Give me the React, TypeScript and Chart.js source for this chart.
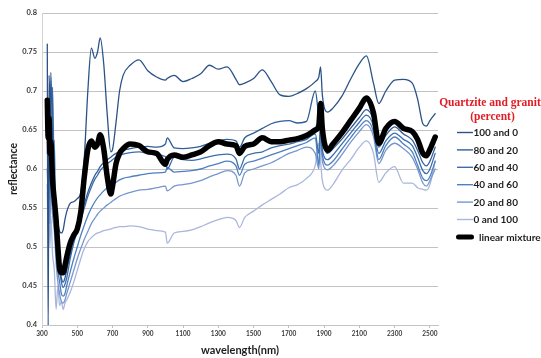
import React, { useEffect, useRef } from "react";
import { Chart, registerables } from "chart.js";

Chart.register(...registerables);

const wavelengths = [
  330, 335, 340, 345, 350, 360, 370, 380, 390, 400, 410, 420, 430, 440, 460, 480, 500, 520, 540, 560,
  580, 600, 615, 630, 650, 670, 690, 700, 720, 740, 760, 800, 850, 900, 950, 1000, 1010, 1050, 1100, 1150,
  1200, 1250, 1300, 1350, 1400, 1420, 1450, 1500, 1550, 1600, 1650, 1700, 1750, 1800, 1850, 1870, 1880, 1890, 1920, 1950,
  2000, 2050, 2100, 2140, 2180, 2210, 2250, 2300, 2350, 2400, 2430, 2460, 2480, 2500, 2530,
];

const q100g0 = [
  0.76, 0.39, 0.72, 0.68, 0.66, 0.61, 0.57, 0.545, 0.53, 0.52, 0.518, 0.522, 0.535, 0.545, 0.556, 0.558, 0.562, 0.57, 0.615, 0.70,
  0.755, 0.742, 0.75, 0.768, 0.735, 0.67, 0.622, 0.625, 0.66, 0.70, 0.72, 0.733, 0.74, 0.726, 0.718, 0.714, 0.716, 0.72, 0.712, 0.716,
  0.722, 0.733, 0.728, 0.731, 0.715, 0.708, 0.71, 0.716, 0.727, 0.712, 0.695, 0.693, 0.697, 0.703, 0.712, 0.718, 0.731, 0.695, 0.673, 0.678,
  0.693, 0.715, 0.735, 0.745, 0.71, 0.684, 0.70, 0.714, 0.715, 0.71, 0.69, 0.658, 0.655, 0.662, 0.671,
];

const q80g20 = [
  0.64, 0.60, 0.68, 0.62, 0.724, 0.64, 0.58, 0.53, 0.50, 0.475, 0.46, 0.455, 0.46, 0.47, 0.49, 0.51, 0.525, 0.54, 0.555, 0.57,
  0.582, 0.592, 0.597, 0.603, 0.608, 0.612, 0.615, 0.617, 0.62, 0.622, 0.624, 0.626, 0.628, 0.629, 0.628, 0.632, 0.64, 0.627, 0.626, 0.627,
  0.629, 0.633, 0.636, 0.638, 0.636, 0.628, 0.64, 0.646, 0.652, 0.658, 0.661, 0.662, 0.659, 0.661, 0.70, 0.668, 0.662, 0.64, 0.62, 0.626,
  0.638, 0.652, 0.666, 0.676, 0.662, 0.628, 0.643, 0.654, 0.645, 0.637, 0.624, 0.608, 0.604, 0.61, 0.628,
];

const q60g40 = [
  0.62, 0.66, 0.58, 0.64, 0.60, 0.705, 0.56, 0.52, 0.49, 0.47, 0.455, 0.448, 0.452, 0.46, 0.485, 0.505, 0.52, 0.535, 0.55, 0.565,
  0.577, 0.587, 0.592, 0.598, 0.603, 0.607, 0.61, 0.612, 0.615, 0.617, 0.619, 0.621, 0.622, 0.62, 0.618, 0.616, 0.60, 0.615, 0.612, 0.611,
  0.613, 0.616, 0.618, 0.619, 0.613, 0.60, 0.615, 0.62, 0.622, 0.627, 0.63, 0.632, 0.635, 0.638, 0.645, 0.62, 0.66, 0.625, 0.612, 0.618,
  0.632, 0.646, 0.66, 0.669, 0.655, 0.62, 0.636, 0.646, 0.638, 0.63, 0.615, 0.598, 0.594, 0.60, 0.62,
];

const q40g60 = [
  0.60, 0.57, 0.62, 0.56, 0.60, 0.58, 0.637, 0.50, 0.47, 0.455, 0.44, 0.437, 0.44, 0.45, 0.468, 0.485, 0.50, 0.515, 0.528, 0.54,
  0.55, 0.558, 0.563, 0.567, 0.572, 0.576, 0.579, 0.58, 0.583, 0.586, 0.588, 0.59, 0.592, 0.594, 0.595, 0.596, 0.602, 0.596, 0.597, 0.598,
  0.60, 0.604, 0.607, 0.61, 0.604, 0.592, 0.606, 0.61, 0.614, 0.618, 0.622, 0.626, 0.63, 0.634, 0.64, 0.605, 0.65, 0.618, 0.605, 0.61,
  0.625, 0.64, 0.654, 0.662, 0.648, 0.612, 0.63, 0.641, 0.632, 0.622, 0.605, 0.588, 0.585, 0.59, 0.61,
];

const q20g80 = [
  0.58, 0.55, 0.59, 0.53, 0.57, 0.54, 0.52, 0.48, 0.455, 0.44, 0.43, 0.428, 0.432, 0.44, 0.455, 0.47, 0.485, 0.498, 0.51, 0.52,
  0.53, 0.537, 0.542, 0.546, 0.55, 0.554, 0.557, 0.559, 0.562, 0.565, 0.567, 0.57, 0.573, 0.574, 0.576, 0.578, 0.572, 0.578, 0.58, 0.582,
  0.585, 0.59, 0.594, 0.598, 0.592, 0.578, 0.595, 0.60, 0.604, 0.608, 0.614, 0.62, 0.624, 0.628, 0.62, 0.60, 0.64, 0.61, 0.599, 0.604,
  0.618, 0.634, 0.648, 0.657, 0.642, 0.607, 0.624, 0.633, 0.626, 0.615, 0.60, 0.582, 0.578, 0.585, 0.60,
];

const q0g100 = [
  0.57, 0.52, 0.56, 0.50, 0.54, 0.49, 0.47, 0.42, 0.45, 0.425, 0.43, 0.42, 0.428, 0.432, 0.442, 0.455, 0.47, 0.485, 0.498, 0.507,
  0.512, 0.516, 0.518, 0.519, 0.521, 0.522, 0.523, 0.524, 0.525, 0.526, 0.526, 0.527, 0.526, 0.523, 0.521, 0.519, 0.505, 0.518, 0.52, 0.522,
  0.526, 0.531, 0.535, 0.538, 0.534, 0.525, 0.538, 0.546, 0.554, 0.561, 0.568, 0.576, 0.58, 0.588, 0.605, 0.633, 0.61, 0.585, 0.573, 0.58,
  0.598, 0.612, 0.628, 0.636, 0.62, 0.583, 0.595, 0.603, 0.582, 0.582, 0.576, 0.574, 0.573, 0.58, 0.61,
];

const linearMixture = [
  0.688, 0.64, 0.665, 0.62, 0.635, 0.585, 0.56, 0.535, 0.50, 0.472, 0.467, 0.467, 0.476, 0.487, 0.505, 0.515, 0.523, 0.545, 0.59, 0.625,
  0.636, 0.628, 0.632, 0.644, 0.626, 0.59, 0.568, 0.578, 0.607, 0.62, 0.626, 0.632, 0.63, 0.622, 0.62, 0.606, 0.612, 0.618, 0.615, 0.618,
  0.622, 0.63, 0.635, 0.632, 0.63, 0.62, 0.629, 0.632, 0.64, 0.635, 0.635, 0.637, 0.639, 0.643, 0.65, 0.656, 0.684, 0.652, 0.624, 0.632,
  0.646, 0.662, 0.678, 0.691, 0.672, 0.633, 0.652, 0.661, 0.652, 0.648, 0.638, 0.62, 0.617, 0.625, 0.641,
];

const seriesLabels = ["100 and 0", "80 and 20", "60 and 40", "40 and 60", "20 and 80", "0 and 100", "linear mixture"];
const seriesValues = [q100g0, q80g20, q60g40, q40g60, q20g80, q0g100, linearMixture];
const seriesColors = ["#2b5287", "#2f5e98", "#3c6daa", "#4d80bf", "#7896ce", "#a9b7da", "#000000"];
const seriesWidths = [1.3, 1.3, 1.3, 1.3, 1.3, 1.3, 5.5];

const xTickValues = [300, 500, 700, 900, 1100, 1300, 1500, 1700, 1900, 2100, 2300, 2500];
const yTickValues = [0.4, 0.45, 0.5, 0.55, 0.6, 0.65, 0.7, 0.75, 0.8];
const legendTitle = ["Quartzite and granite", "(percent)"];

const sideLegend = {
  id: "sideLegend",
  afterDraw(chart: any) {
    const { ctx, chartArea } = chart;
    const right = chartArea.right;
    ctx.save();
    ctx.fillStyle = "#e31b23";
    ctx.font = 'bold 11.5px "Liberation Serif"';
    ctx.textAlign = "center";
    ctx.textBaseline = "middle";
    legendTitle.forEach((t, i) => ctx.fillText(t, right + 54.5, 103 + i * 14));
    ctx.textAlign = "left";
    ctx.font = 'bold 10px Lato';
    chart.data.datasets.forEach((ds: any, i: number) => {
      const y = 132.5 + i * 17.4;
      const thick = ds.borderWidth > 2;
      ctx.strokeStyle = ds.borderColor;
      ctx.lineWidth = thick ? 5 : 1.4;
      ctx.lineCap = thick ? "round" : "butt";
      ctx.beginPath();
      ctx.moveTo(right + (thick ? 20.5 : 19), y);
      ctx.lineTo(right + (thick ? 33.5 : 35), y);
      ctx.stroke();
      ctx.fillStyle = "#1e1e1e";
      ctx.fillText(ds.label, right + (thick ? 41 : 35.5), y + 0.5);
    });
    ctx.restore();
  },
};

export default function App() {
  const ref = useRef<HTMLCanvasElement | null>(null);
  useEffect(() => {
    document.body.style.margin = "0";
    if (!ref.current) return;
    const datasets = seriesLabels.map((label, i) => ({
      label,
      data: wavelengths.map((w, j) => ({ x: w, y: seriesValues[i][j] })),
      borderColor: seriesColors[i],
      backgroundColor: seriesColors[i],
      borderWidth: seriesWidths[i],
      pointRadius: 0,
      cubicInterpolationMode: "monotone" as const,
      borderJoinStyle: "round" as const,
      borderCapStyle: "round" as const,
      order: i === seriesLabels.length - 1 ? -1 : i,
      fill: false,
    }));
    const chart = new Chart(ref.current, {
      type: "line",
      data: { datasets },
      plugins: [sideLegend],
      options: {
        animation: false,
        responsive: false,
        maintainAspectRatio: false,
        layout: { padding: { left: 0, right: 103, top: 13, bottom: 0 } },
        plugins: { legend: { display: false }, tooltip: { enabled: false } },
        scales: {
          x: {
            type: "linear",
            min: 300,
            max: 2546,
            afterBuildTicks: (s: any) => {
              s.ticks = xTickValues.map((v) => ({ value: v }));
            },
            afterFit: (s: any) => {
              s.height = 33;
            },
            ticks: {
              autoSkip: false,
              maxRotation: 0,
              padding: 2,
              color: "#3a3a3a",
              font: { family: "Lato", size: 6.5, weight: "bold" },
              callback: (v: any) => String(v),
            },
            grid: { drawOnChartArea: false, drawTicks: true, tickLength: 3, color: "#bfbfbf" },
            border: { color: "#c4c4c4" },
            title: {
              display: true,
              text: "wavelength(nm)",
              color: "#1e1e1e",
              font: { family: "Lato", size: 11, weight: "bold" },
              padding: { top: 0, bottom: 1 },
            },
          },
          y: {
            min: 0.4,
            max: 0.8,
            afterBuildTicks: (s: any) => {
              s.ticks = yTickValues.map((v) => ({ value: v }));
            },
            afterFit: (s: any) => {
              s.width = 42;
            },
            ticks: {
              padding: 5,
              color: "#3a3a3a",
              font: { family: "Lato", size: 7.5, weight: "bold" },
              callback: (v: any) => String(Number(v.toFixed(2))),
            },
            grid: { color: "#c3c3c3", drawTicks: false },
            border: { color: "#d4d4d4" },
            title: {
              display: true,
              text: "reflectance",
              color: "#1e1e1e",
              font: { family: "Lato", size: 10.5, weight: "bold" },
              padding: { top: 7, bottom: 0 },
            },
          },
        },
      },
    });
    return () => chart.destroy();
  }, []);
  return (
    <div style={{ width: 541, height: 358, background: "#fff" }}>
      <canvas ref={ref} width={541} height={358} />
    </div>
  );
}
